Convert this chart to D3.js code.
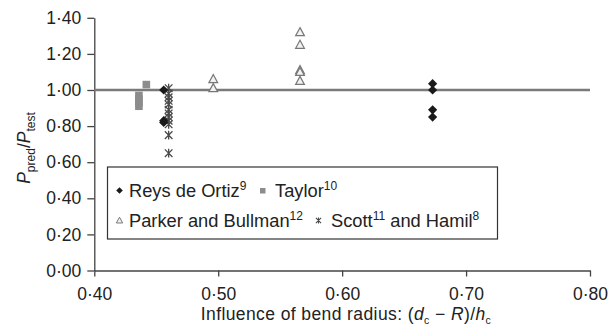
<!DOCTYPE html>
<html><head><meta charset="utf-8">
<script src="https://cdn.jsdelivr.net/npm/d3@7"></script>
<style>body{margin:0;background:#fff;}svg{display:block;font-family:"Liberation Sans",Arial,sans-serif;}</style>
</head><body>
<svg id="c" width="613" height="326"></svg>
<script>
// ---- data ----
const xTicks = [0.40, 0.50, 0.60, 0.70, 0.80];
const yTicks = [0.00, 0.20, 0.40, 0.60, 0.80, 1.00, 1.20, 1.40];
const refLine = 1.00;
const reysX = [0.456, 0.456, 0.456, 0.673, 0.673, 0.673, 0.673];
const reysY = [1.00, 0.83, 0.82, 1.035, 1.00, 0.89, 0.85];
const taylorX = [0.436, 0.436, 0.436, 0.436, 0.442];
const taylorY = [0.97, 0.95, 0.93, 0.91, 1.03];
const parkerX = [0.496, 0.496, 0.566, 0.566, 0.566, 0.566, 0.566];
const parkerY = [1.06, 1.01, 1.32, 1.25, 1.11, 1.10, 1.05];
const scottX = [0.460, 0.460, 0.460, 0.460, 0.460, 0.460, 0.460, 0.460, 0.460, 0.460, 0.460, 0.460];
const scottY = [1.01, 0.98, 0.96, 0.94, 0.92, 0.89, 0.87, 0.85, 0.83, 0.81, 0.75, 0.65];

const svg = d3.select("#c");
const x = d3.scaleLinear().domain([0.40, 0.80]).range([94.3, 590]);
const y = d3.scaleLinear().domain([0, 1.40]).range([270.5, 17.8]);
const fmt = d => d.toFixed(2).replace(".", "·");
const axisCol = "#444";

const gx = svg.append("g").attr("transform", `translate(0,${y(0)})`)
  .call(d3.axisBottom(x).tickValues(xTicks).tickFormat(fmt).tickSizeInner(6).tickSizeOuter(0).tickPadding(11));
const gy = svg.append("g").attr("transform", `translate(${x(0.40)},0)`)
  .call(d3.axisLeft(y).tickValues(yTicks).tickFormat(fmt).tickSizeInner(7).tickSizeOuter(0).tickPadding(6));
[gx, gy].forEach(g => {
  g.selectAll("path").attr("stroke", axisCol).attr("stroke-width", 1.3);
  g.selectAll("line").attr("stroke", axisCol).attr("stroke-width", 1.3);
  g.selectAll("text").attr("font-size", 17.5).attr("fill", "#222")
    .attr("font-family", "'Liberation Sans',Arial,sans-serif");
});

// reference line
svg.append("line").attr("x1", x(0.40)).attr("x2", x(0.80))
  .attr("y1", y(refLine)).attr("y2", y(refLine))
  .attr("stroke", "#7a7a7a").attr("stroke-width", 2.5);

const diamond = s => `M0,${-s}L${s},0L0,${s}L${-s},0Z`;
const star = s => `M${-s},${-s}L${s},${s}M${-s},${s}L${s},${-s}M0,${-s*1.15}L0,${s*1.15}`;
const tri = s => `M0,${-s}L${s*0.95},${s*0.75}L${-s*0.95},${s*0.75}Z`;

// Taylor squares
svg.append("g").selectAll("rect").data(taylorX.map((v, i) => [v, taylorY[i]])).join("rect")
  .attr("x", d => x(d[0]) - 3.8).attr("y", d => y(d[1]) - 3.8)
  .attr("width", 7.6).attr("height", 7.6).attr("fill", "#8c8c8c");
// Parker triangles
svg.append("g").selectAll("path").data(parkerX.map((v, i) => [v, parkerY[i]])).join("path")
  .attr("transform", d => `translate(${x(d[0])},${y(d[1])})`)
  .attr("d", tri(4.6)).attr("fill", "#f2f2f2").attr("stroke", "#777").attr("stroke-width", 1.2);
// Scott asterisks
svg.append("g").selectAll("path").data(scottX.map((v, i) => [v, scottY[i]])).join("path")
  .attr("transform", d => `translate(${x(d[0])},${y(d[1])})`)
  .attr("d", star(3.8)).attr("fill", "none").attr("stroke", "#4a4a4a").attr("stroke-width", 1.3);
// Reys diamonds
svg.append("g").selectAll("path").data(reysX.map((v, i) => [v, reysY[i]])).join("path")
  .attr("transform", d => `translate(${x(d[0])},${y(d[1])})`)
  .attr("d", diamond(4.6)).attr("fill", "#1a1a1a");

// legend
const lg = svg.append("g");
lg.append("rect").attr("x", 107.5).attr("y", 167).attr("width", 390).attr("height", 72)
  .attr("fill", "#fff").attr("stroke", "#333").attr("stroke-width", 1.2);
const fs = 18.3;
function label(xp, yp, parts) {
  const t = lg.append("text").attr("x", xp).attr("y", yp).attr("font-size", fs).attr("fill", "#222");
  parts.forEach(p => {
    if (p.sup) t.append("tspan").attr("font-size", 12).attr("dy", -7).text(p.t);
    else t.append("tspan").attr("dy", p.after ? 7 : 0).text(p.t);
  });
}
lg.append("path").attr("transform", "translate(119.5,190.5)").attr("d", diamond(3.3)).attr("fill", "#1a1a1a");
label(129, 197, [{t: "Reys de Ortiz"}, {t: "9", sup: true}]);
lg.append("rect").attr("x", 260).attr("y", 188).attr("width", 5.5).attr("height", 5.5).attr("fill", "#8c8c8c");
label(275, 197, [{t: "Taylor"}, {t: "10", sup: true}]);
lg.append("path").attr("transform", "translate(119.5,220.5)").attr("d", tri(3.3)).attr("fill", "#f2f2f2").attr("stroke", "#777").attr("stroke-width", 1);
label(129, 226.5, [{t: "Parker and Bullman"}, {t: "12", sup: true}]);
lg.append("path").attr("transform", "translate(318.5,220.5)").attr("d", star(2.6)).attr("fill", "none").attr("stroke", "#4a4a4a").attr("stroke-width", 1.1);
label(331, 226.5, [{t: "Scott"}, {t: "11", sup: true}, {t: " and Hamil", after: true}, {t: "8", sup: true}]);

// axis titles
const xt = svg.append("text").attr("x", 346).attr("y", 320).attr("text-anchor", "middle")
  .attr("font-size", 17.5).attr("letter-spacing", 0.4).attr("fill", "#222");
xt.append("tspan").text("Influence of bend radius: (");
xt.append("tspan").attr("font-style", "italic").text("d");
xt.append("tspan").attr("font-size", 10.5).attr("dy", 3.5).text("c");
xt.append("tspan").attr("dy", -3.5).text(" − ");
xt.append("tspan").attr("font-style", "italic").text("R");
xt.append("tspan").text(")/");
xt.append("tspan").attr("font-style", "italic").text("h");
xt.append("tspan").attr("font-size", 10.5).attr("dy", 3.5).text("c");

const yt = svg.append("text").attr("transform", "translate(30,148) rotate(-90)").attr("text-anchor", "middle")
  .attr("font-size", 17.5).attr("fill", "#222");
yt.append("tspan").attr("font-style", "italic").text("P");
yt.append("tspan").attr("font-size", 12).attr("dy", 5).text("pred");
yt.append("tspan").attr("dy", -5).text("/");
yt.append("tspan").attr("font-style", "italic").text("P");
yt.append("tspan").attr("font-size", 12).attr("dy", 5).text("test");
</script>
</body></html>
